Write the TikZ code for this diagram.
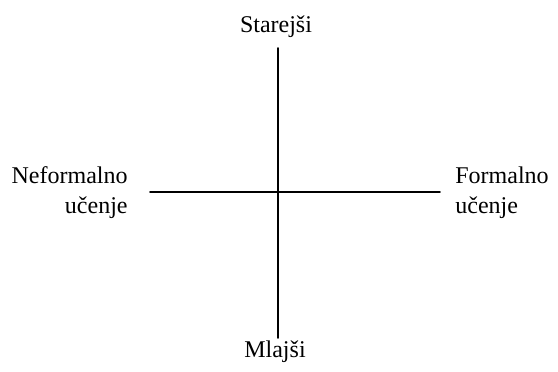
\documentclass[tikz,border=0pt]{standalone}
\usepackage{fontspec}
\setmainfont{Liberation Serif}
\usepackage{tikz}

\begin{document}
\begin{tikzpicture}[x=0.5pt,y=0.5pt, line cap=round, line join=round,
    lbl/.style={font=\fontsize{12}{15}\selectfont, inner sep=0pt}]
    % Frame
    \useasboundingbox (0,0) rectangle (558,371);

    % Axis ends
    \coordinate (top) at (278,323);
    \coordinate (bottom) at (278,33);
    \coordinate (left) at (150,179);
    \coordinate (right) at (440,179);

    % Axes
    \draw[line width=0.9pt] (top) -- (bottom);
    \draw[line width=0.9pt] (left) -- (right);

    % Labels
    \node[lbl, anchor=base] (older) at (276,339) {Starejši};
    \node[lbl, anchor=base] (younger) at (275,14) {Mlajši};
    \node[lbl, anchor=base east, align=right] (informal) at (128,158) {Neformalno\\učenje};
    \node[lbl, anchor=base west, align=left] (formal) at (455,158) {Formalno\\učenje};
\end{tikzpicture}
\end{document}
